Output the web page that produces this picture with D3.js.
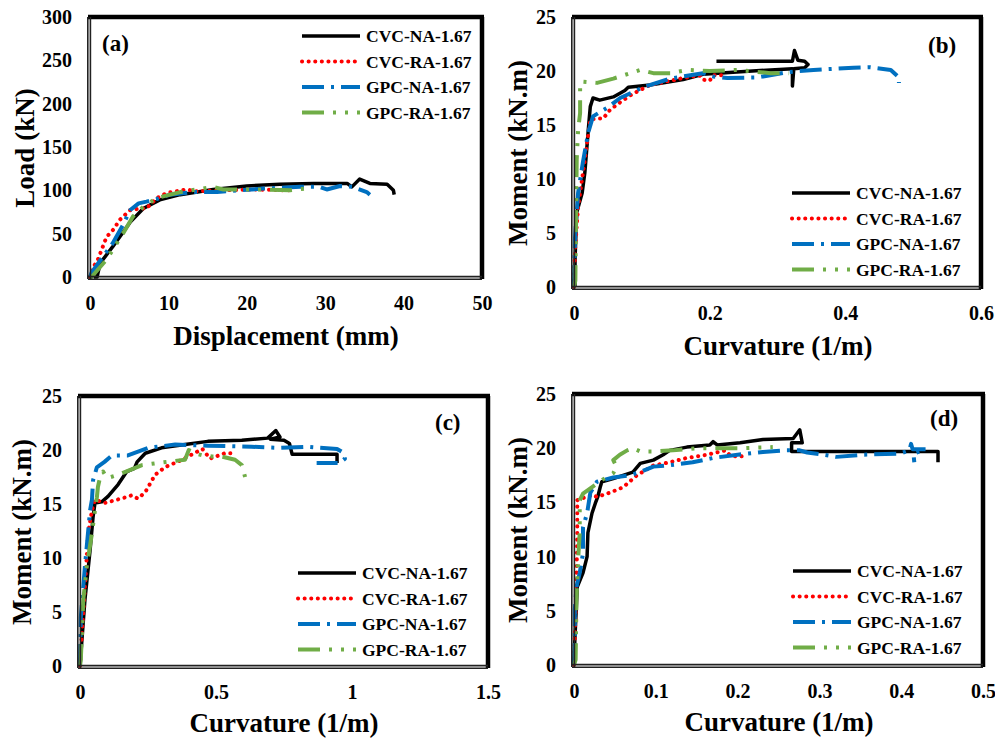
<!DOCTYPE html>
<html>
<head>
<meta charset="utf-8">
<script src="https://cdn.jsdelivr.net/npm/d3@7"></script>
<style>
  body { margin: 0; background: #fff; }
  svg { display: block; }
  text { font-family: "Liberation Serif", "Times New Roman", serif; font-weight: bold; fill: #000; }
</style>
</head>
<body>
<div id="chart"></div>
<script>
// series names shared by all four panels
const seriesNames = ['CVC-NA-1.67', 'CVC-RA-1.67', 'GPC-NA-1.67', 'GPC-RA-1.67'];

// (a) load vs displacement
const aXTicks = [0, 10, 20, 30, 40, 50];
const aYTicks = [0, 50, 100, 150, 200, 250, 300];
const aCvcNa = [[0.5,0],[0.9,0],[1.3,16],[2.9,35],[5.1,63],[6.8,79],[8.9,89],[11.5,95],[15.7,101],[20,105],[24.2,107],[28.5,108],[32.8,108],[33.4,104],[34.4,113],[35.7,108],[37.9,107],[38.7,100],[38.8,95]];
const aCvcRa = [[0,0],[0.4,11],[1,20],[2.1,46],[3,55],[3.8,66],[5.1,77],[6.4,79],[7.2,79],[8.5,91],[9.8,97],[12.3,101],[13.5,99],[16.6,100],[21,101],[25.5,100]];
const aGpcNa = [[0,0],[0.2,5],[1.3,19],[2.9,39],[4.2,60],[5.1,77],[6.2,85],[7.2,87],[8.5,90],[10.2,95],[13.2,98],[16.2,98],[19.1,100],[22.1,102],[26.8,104],[29.3,104],[30.2,101],[31.9,105],[33.5,104],[35.3,98],[35.7,95]];
const aGpcRa = [[0,0],[0.2,0],[2.1,20],[4.2,50],[5.5,70],[6.8,81],[8.5,91],[11.5,98],[15.7,104],[17,101],[20.8,101],[25.5,100],[27.4,102]];

// (b) moment vs curvature
const bXTicks = [0, 0.2, 0.4, 0.6];
const mTicks = [0, 5, 10, 15, 20, 25];
const bCvcNa = [[0.0015,0],[0.0015,2.5],[0.004,6.9],[0.012,8.7],[0.016,10.6],[0.021,14.5],[0.024,16.7],[0.028,17.5],[0.038,17.3],[0.058,17.6],[0.075,18.2],[0.08,18.5],[0.112,18.7],[0.161,19.2],[0.19,19.7],[0.24,19.9],[0.29,20.1],[0.322,20.2],[0.322,18.6],[0.324,20.2],[0.34,20.3],[0.345,20.6],[0.34,20.9],[0.33,21.0],[0.325,21.9],[0.322,20.9],[0.21,20.9]];
const bCvcRa = [[0,0],[0.0015,3.4],[0.006,7.4],[0.016,11.8],[0.024,15.5],[0.034,15.6],[0.043,15.6],[0.053,16.4],[0.068,17.1],[0.087,17.9],[0.112,18.7],[0.157,19.3],[0.185,19.6],[0.19,19.2],[0.2,19.1],[0.205,19.6],[0.226,19.6]];
const bGpcNa = [[0,0],[0.0015,4.6],[0.006,8.7],[0.013,11.5],[0.021,14.3],[0.028,15.8],[0.049,16.6],[0.068,17.5],[0.102,18.5],[0.142,19.3],[0.19,19.8],[0.205,19.5],[0.226,19.35],[0.27,19.4],[0.315,19.9],[0.353,20.1],[0.412,20.3],[0.437,20.35],[0.467,20.1],[0.479,19.4],[0.479,18.9]];
const bGpcRa = [[0,0],[0.002,0.6],[0.003,6.2],[0.004,11.8],[0.006,14.5],[0.009,16.1],[0.009,18.9],[0.013,19.0],[0.034,18.9],[0.058,19.3],[0.098,20.1],[0.117,19.8],[0.142,19.8],[0.167,20.1],[0.2,20.0],[0.24,20.1],[0.29,19.8],[0.317,19.8]];

// (c)
const cXTicks = [0, 0.5, 1, 1.5];
const cCvcNa = [[0,0],[0.007,2.4],[0.018,6.1],[0.037,10.7],[0.048,13.8],[0.055,15.1],[0.08,15.2],[0.103,15.7],[0.14,16.8],[0.172,18.0],[0.2,18.3],[0.21,18.9],[0.24,19.7],[0.30,20.2],[0.386,20.5],[0.47,20.8],[0.595,20.9],[0.69,21.1],[0.72,21.8],[0.735,21.2],[0.70,21.0],[0.75,20.9],[0.77,20.6],[0.78,19.6],[0.945,19.6],[0.945,18.8]];
const cCvcRa = [[0,0],[0.007,3.0],[0.018,7.3],[0.03,12.3],[0.044,14.4],[0.055,15.4],[0.092,15.1],[0.165,15.6],[0.19,15.8],[0.213,15.5],[0.24,16.1],[0.276,17.7],[0.312,18.4],[0.375,19.1],[0.45,20.1],[0.478,19.2],[0.533,19.7],[0.576,19.7]];
const cGpcNa = [[0,0],[0.003,4.5],[0.018,9.2],[0.037,14.4],[0.044,15.4],[0.048,17.2],[0.062,18.4],[0.09,18.9],[0.118,19.5],[0.176,19.5],[0.25,20.2],[0.35,20.5],[0.47,20.4],[0.63,20.3],[0.735,20.2],[0.835,20.3],[0.945,20.1],[0.965,19.8],[0.974,19.2],[0.955,18.8],[0.87,18.8]];
const cGpcRa = [[0,0],[0.003,0.6],[0.012,6.1],[0.025,9.2],[0.044,12.3],[0.055,14.4],[0.062,15.6],[0.066,16.6],[0.074,17.5],[0.085,18.0],[0.1,17.4],[0.14,17.7],[0.228,18.6],[0.287,18.8],[0.386,19.1],[0.4,20.0],[0.42,19.7],[0.45,19.5],[0.485,19.4],[0.52,19.4],[0.57,19.1],[0.595,18.6],[0.607,17.5]];

// (d)
const dXTicks = [0, 0.1, 0.2, 0.3, 0.4, 0.5];
const dCvcNa = [[0,0],[0.001,2.3],[0.004,7.2],[0.011,8.5],[0.016,10.0],[0.017,12.2],[0.022,14.0],[0.026,14.9],[0.029,15.5],[0.032,16.4],[0.034,16.9],[0.048,17.2],[0.072,17.8],[0.081,18.6],[0.097,18.9],[0.109,19.4],[0.117,19.8],[0.138,20.1],[0.166,20.3],[0.17,20.6],[0.175,20.3],[0.203,20.5],[0.231,20.8],[0.268,20.9],[0.276,21.7],[0.279,20.5],[0.266,20.5],[0.266,19.7],[0.445,19.7],[0.445,18.7]];
const dCvcRa = [[0,0],[0.001,2.6],[0.003,7.6],[0.004,12.2],[0.004,15.2],[0.011,15.4],[0.023,15.7],[0.028,15.5],[0.044,15.9],[0.06,16.4],[0.077,17.5],[0.097,18.4],[0.117,18.7],[0.138,19.1],[0.163,19.4],[0.185,19.8],[0.19,19.4],[0.2,19.2],[0.21,19.3]];
const dGpcNa = [[0,0],[0.001,2.3],[0.001,5.1],[0.003,7.2],[0.007,8.5],[0.011,10.3],[0.011,12.7],[0.016,14.0],[0.02,15.9],[0.028,16.9],[0.048,17.3],[0.068,17.5],[0.081,17.8],[0.097,18.3],[0.114,18.4],[0.145,18.7],[0.17,19.1],[0.2,19.4],[0.231,19.65],[0.26,19.8],[0.276,19.8],[0.285,19.6],[0.305,19.4],[0.321,19.2],[0.353,19.4],[0.398,19.5],[0.41,19.8],[0.412,20.4],[0.414,19.9],[0.43,19.9],[0.415,19.5],[0.416,18.7]];
const dGpcRa = [[0,0],[0.002,0.5],[0.003,6.0],[0.005,9.7],[0.007,12.2],[0.007,15.2],[0.011,15.8],[0.02,16.3],[0.035,17.1],[0.048,17.7],[0.052,18.3],[0.048,18.9],[0.056,19.4],[0.065,19.8],[0.072,20.0],[0.081,19.7],[0.097,19.7],[0.121,19.8],[0.15,20.0],[0.17,20.0],[0.203,20.0],[0.243,20.1]];

const W = 995, H = 740;

// line look for each series, in legend order
const styles = [
  { color: '#000000', width: 3.5, dash: null, cap: 'butt' },
  { color: '#FF0000', width: 4, dash: '0.1 6.5', cap: 'round' },
  { color: '#0070C0', width: 4, dash: '22 7 3 7', cap: 'butt' },
  { color: '#70AD47', width: 4, dash: '22 9 3 9 3 9', cap: 'butt' }
];

const panels = [
  { label: '(a)', series: [aCvcNa, aCvcRa, aGpcNa, aGpcRa], xTicks: aXTicks, yTicks: aYTicks,
    box: { l: 90, r: 482, t: 17, b: 277 }, xTitle: 'Displacement (mm)', yTitle: 'Load (kN)',
    xTitlePos: [286, 345], yTitlePos: [25, 148], labelPos: [102, 51], legend: { x: 302, y: 36 } },
  { label: '(b)', series: [bCvcNa, bCvcRa, bGpcNa, bGpcRa], xTicks: bXTicks, yTicks: mTicks,
    box: { l: 574, r: 981, t: 17, b: 287 }, xTitle: 'Curvature (1/m)', yTitle: 'Moment (kN.m)',
    xTitlePos: [778, 355], yTitlePos: [518, 153], labelPos: [928, 53], legend: { x: 792, y: 193 } },
  { label: '(c)', series: [cCvcNa, cCvcRa, cGpcNa, cGpcRa], xTicks: cXTicks, yTicks: mTicks,
    box: { l: 80, r: 488, t: 396, b: 666 }, xTitle: 'Curvature (1/m)', yTitle: 'Moment (kN.m)',
    xTitlePos: [284, 732], yTitlePos: [22, 532], labelPos: [435, 430], legend: { x: 298, y: 573 } },
  { label: '(d)', series: [dCvcNa, dCvcRa, dGpcNa, dGpcRa], xTicks: dXTicks, yTicks: mTicks,
    box: { l: 574, r: 983, t: 394, b: 665 }, xTitle: 'Curvature (1/m)', yTitle: 'Moment (kN.m)',
    xTitlePos: [779, 731], yTitlePos: [518, 530], labelPos: [930, 426], legend: { x: 793, y: 571 } }
];

const svg = d3.select('#chart').append('svg')
  .attr('width', W)
  .attr('height', H);

panels.forEach(p => {
  const { l, r, t, b } = p.box;
  const x = d3.scaleLinear().domain(d3.extent(p.xTicks)).range([l, r]);
  const y = d3.scaleLinear().domain(d3.extent(p.yTicks)).range([b, t]);
  const g = svg.append('g');

  // curves
  const line = d3.line().x(d => x(d[0])).y(d => y(d[1]));
  p.series.forEach((s, i) => {
    const st = styles[i];
    g.append('path')
      .datum(s)
      .attr('d', line)
      .attr('fill', 'none')
      .attr('stroke', st.color)
      .attr('stroke-width', st.width)
      .attr('stroke-linecap', st.cap)
      .attr('stroke-linejoin', 'round')
      .attr('stroke-dasharray', st.dash);
  });

  // frame: thick top/right, double line left/bottom like the Excel export
  g.append('line').attr('x1', l - 2).attr('x2', r + 2).attr('y1', t).attr('y2', t)
    .attr('stroke', '#000').attr('stroke-width', 4.5);
  g.append('line').attr('x1', r).attr('x2', r).attr('y1', t).attr('y2', b + 2)
    .attr('stroke', '#000').attr('stroke-width', 4.5);
  [-2.2, 0.4].forEach(o => {
    g.append('line').attr('x1', l + o).attr('x2', l + o).attr('y1', t).attr('y2', b + 2)
      .attr('stroke', '#222').attr('stroke-width', 1.6);
    g.append('line').attr('x1', l - 2).attr('x2', r).attr('y1', b - o).attr('y2', b - o)
      .attr('stroke', '#222').attr('stroke-width', 1.6);
  });

  // tick labels through axes (no tick marks, no domain line)
  const xAxis = g.append('g')
    .attr('transform', `translate(0,${b + 16})`)
    .call(d3.axisBottom(x).tickValues(p.xTicks).tickSize(0).tickFormat(d3.format('~g')));
  const yAxis = g.append('g')
    .attr('transform', `translate(${l - 15},0)`)
    .call(d3.axisLeft(y).tickValues(p.yTicks).tickSize(0).tickFormat(d3.format('~g')));
  [xAxis, yAxis].forEach(a => {
    a.select('.domain').remove();
    a.selectAll('text')
      .attr('font-family', '"Liberation Serif", "Times New Roman", serif')
      .attr('font-weight', 'bold')
      .attr('font-size', 20)
      .attr('fill', '#000');
  });

  // axis titles
  g.append('text')
    .attr('x', p.xTitlePos[0]).attr('y', p.xTitlePos[1])
    .attr('text-anchor', 'middle')
    .style('font-size', '27px')
    .text(p.xTitle);
  g.append('text')
    .attr('transform', `translate(${p.yTitlePos[0]},${p.yTitlePos[1]}) rotate(-90)`)
    .attr('dy', '0.35em')
    .attr('text-anchor', 'middle')
    .style('font-size', '27px')
    .text(p.yTitle);

  // panel label
  g.append('text')
    .attr('x', p.labelPos[0]).attr('y', p.labelPos[1])
    .style('font-size', '23px')
    .text(p.label);

  // legend
  seriesNames.forEach((name, i) => {
    const st = styles[i];
    const ly = p.legend.y + i * 25.5;
    g.append('line')
      .attr('x1', p.legend.x).attr('x2', p.legend.x + 58)
      .attr('y1', ly).attr('y2', ly)
      .attr('stroke', st.color)
      .attr('stroke-width', st.width)
      .attr('stroke-linecap', st.cap)
      .attr('stroke-dasharray', st.dash);
    g.append('text')
      .attr('x', p.legend.x + 64).attr('y', ly)
      .attr('dy', '0.35em')
      .style('font-size', '17.5px')
      .text(name);
  });
});
</script>
</body>
</html>
